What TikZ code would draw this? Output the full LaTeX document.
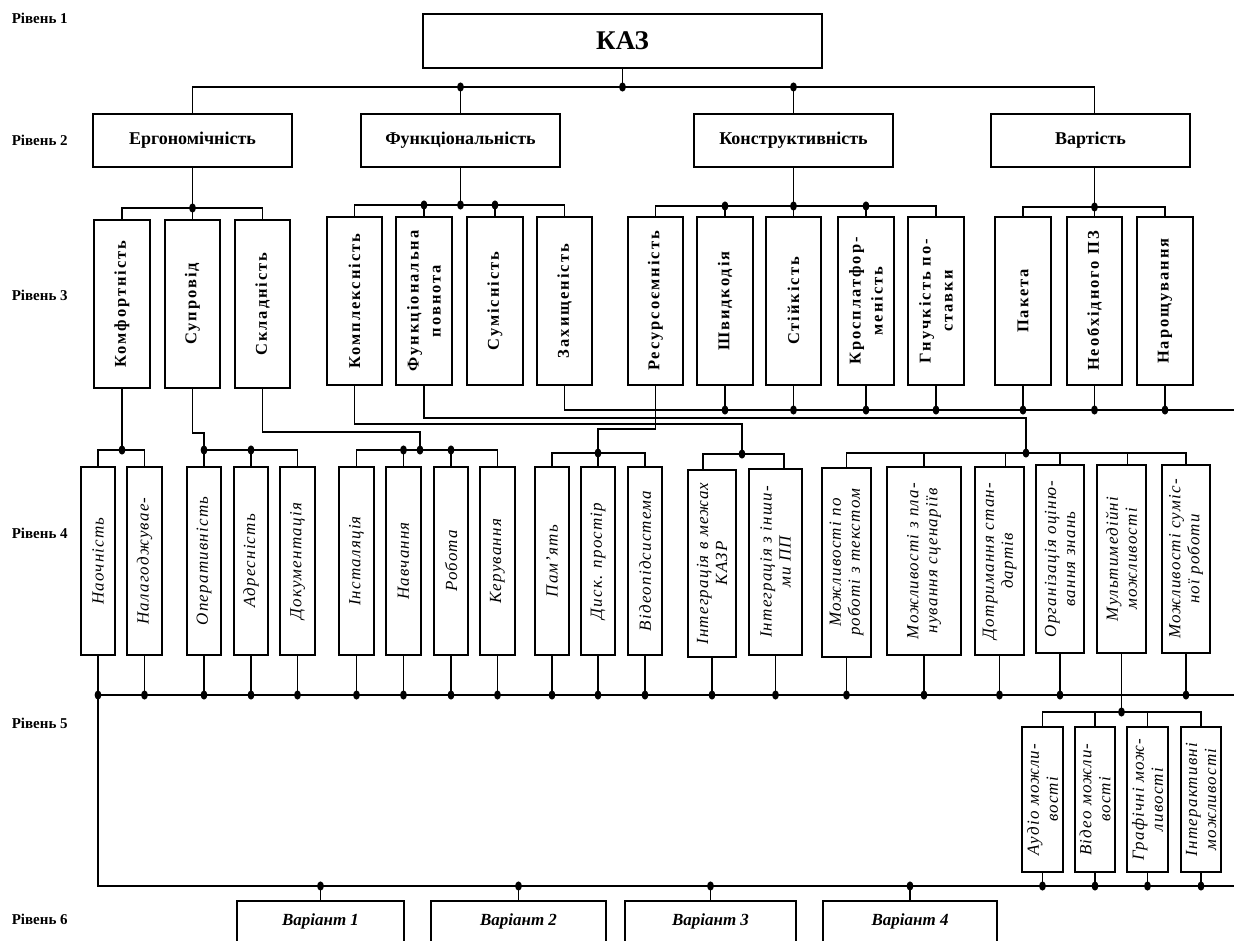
\documentclass[tikz,border=0pt]{standalone}
\usepackage{fontspec}
\setmainfont{Liberation Serif}
\newfontfamily\fthree[LetterSpace=12]{Liberation Serif}
\newfontfamily\ffour[LetterSpace=7]{Liberation Serif}
\newcommand\bx[5]{\node[box, anchor=north west, minimum width=\fpeval{#4-#2}pt, minimum height=\fpeval{#5-#3}pt] (#1) at (#2,#3) {};}
\newcommand\dt[1]{\fill (#1) ellipse[x radius=3.4pt, y radius=4.6pt];}
\tikzset{
 box/.style={draw, inner sep=0pt, outer sep=0pt},
 t2/.style={font=\bfseries\fontsize{18}{20}\selectfont},
 t3/.style={rotate=90, align=center, inner sep=0pt, font=\fthree\bfseries\fontsize{16.5}{22}\selectfont},
 t4/.style={rotate=90, align=center, inner sep=0pt, font=\ffour\itshape\fontsize{17}{19}\selectfont},
 t6/.style={font=\bfseries\itshape\fontsize{17}{19}\selectfont},
 lvl/.style={anchor=west, inner sep=0pt, font=\bfseries\fontsize{15}{17}\selectfont},
}
\begin{document}
\begin{tikzpicture}[x=1pt,y=-1pt,line width=1.6pt]
\path[use as bounding box] (0,0) rectangle (1234,940);
\clip (0,0) rectangle (1234,940);
% level labels
\node[lvl] (lv1) at (11,18) {Рівень 1};
\node[lvl] (lv2) at (11,140) {Рівень 2};
\node[lvl] (lv3) at (11,295) {Рівень 3};
\node[lvl] (lv4) at (11,533) {Рівень 4};
\node[lvl] (lv5) at (11,723) {Рівень 5};
\node[lvl] (lv6) at (11,919) {Рівень 6};
% level 1
\bx{kaz}{423}{14}{822}{68}
\node[font=\bfseries\fontsize{27}{29}\selectfont] (kaz-t) at (kaz) {КАЗ};
% level 2
\bx{ergo}{93}{114}{292}{167}
\bx{func}{361}{114}{560}{167}
\bx{konst}{694}{114}{893}{167}
\bx{vart}{991}{114}{1190}{167}
\node[t2] (ergo-t) at (ergo) {Ергономічність};
\node[t2] (func-t) at (func) {Функціональність};
\node[t2] (konst-t) at (konst) {Конструктивність};
\node[t2] (vart-t) at (vart) {Вартість};
% level 3
\bx{komf}{94}{220}{150}{388}
\bx{supr}{165}{220}{220}{388}
\bx{skl}{235}{220}{290}{388}
\bx{kompl}{327}{217}{382}{385}
\bx{fpovn}{396}{217}{452}{385}
\bx{sum}{467}{217}{523}{385}
\bx{zakh}{537}{217}{592}{385}
\bx{res}{628}{217}{683}{385}
\bx{shv}{697}{217}{753}{385}
\bx{stiik}{766}{217}{821}{385}
\bx{kros}{838}{217}{894}{385}
\bx{gnuch}{908}{217}{964}{385}
\bx{pak}{995}{217}{1051}{385}
\bx{neobh}{1067}{217}{1122}{385}
\bx{nar}{1137}{217}{1193}{385}
\node[t3] (komf-t) at (komf) {Комфортність};
\node[t3] (supr-t) at (supr) {Супровід};
\node[t3] (skl-t) at (skl) {Складність};
\node[t3] (kompl-t) at (kompl) {Комплексність};
\node[t3] (fpovn-t) at (fpovn) {Функціональна\\повнота};
\node[t3] (sum-t) at (sum) {Сумісність};
\node[t3] (zakh-t) at (zakh) {Захищеність};
\node[t3] (res-t) at (res) {Ресурсоємність};
\node[t3] (shv-t) at (shv) {Швидкодія};
\node[t3] (stiik-t) at (stiik) {Стійкість};
\node[t3] (kros-t) at (kros) {Кросплатфор-\\меність};
\node[t3] (gnuch-t) at (gnuch) {Гнучкість по-\\ставки};
\node[t3] (pak-t) at (pak) {Пакета};
\node[t3] (neobh-t) at (neobh) {Необхідного ПЗ};
\node[t3] (nar-t) at (nar) {Нарощування};
% level 4
\bx{nao}{81}{467}{115}{655}
\bx{nal}{127}{467}{162}{655}
\bx{oper}{187}{467}{221}{655}
\bx{adr}{234}{467}{268}{655}
\bx{doc}{280}{467}{315}{655}
\bx{inst}{339}{467}{374}{655}
\bx{navch}{386}{467}{421}{655}
\bx{rob}{434}{467}{468}{655}
\bx{ker}{480}{467}{515}{655}
\bx{pam}{535}{467}{569}{655}
\bx{disk}{581}{467}{615}{655}
\bx{vid}{628}{467}{662}{655}
\bx{int1}{688}{470}{736}{657}
\bx{int2}{749}{469}{802}{655}
\bx{mtext}{822}{468}{871}{657}
\bx{plan}{887}{467}{961}{655}
\bx{dotr}{975}{467}{1024}{655}
\bx{org}{1036}{465}{1084}{653}
\bx{mult}{1097}{465}{1146}{653}
\bx{sumr}{1162}{465}{1210}{653}
\node[t4] (nao-t) at (nao) {Наочність};
\node[t4] (nal-t) at (nal) {Налагоджувае-};
\node[t4] (oper-t) at (oper) {Оперативність};
\node[t4] (adr-t) at (adr) {Адресність};
\node[t4] (doc-t) at (doc) {Документація};
\node[t4] (inst-t) at (inst) {Інсталяція};
\node[t4] (navch-t) at (navch) {Навчання};
\node[t4] (rob-t) at (rob) {Робота};
\node[t4] (ker-t) at (ker) {Керування};
\node[t4] (pam-t) at (pam) {Пам’ять};
\node[t4] (disk-t) at (disk) {Диск. простір};
\node[t4] (vid-t) at (vid) {Відеопідсистема};
\node[t4] (int1-t) at (int1) {Інтеграція в межах\\КАЗР};
\node[t4] (int2-t) at (int2) {Інтеграція з інши-\\ми ПП};
\node[t4] (mtext-t) at (mtext) {Можливості по\\роботі з текстом};
\node[t4] (plan-t) at (plan) {Можливості з пла-\\нування сценаріїв};
\node[t4] (dotr-t) at (dotr) {Дотримання стан-\\дартів};
\node[t4] (org-t) at (org) {Організація оціню-\\вання знань};
\node[t4] (mult-t) at (mult) {Мультимедійні\\можливості};
\node[t4] (sumr-t) at (sumr) {Можливості суміс-\\ної роботи};
% level 5
\bx{aud}{1022}{727}{1063}{872}
\bx{vido}{1075}{727}{1115}{872}
\bx{graf}{1127}{727}{1168}{872}
\bx{inter}{1181}{727}{1221}{872}
\node[t4] (aud-t) at (aud) {Аудіо можли-\\вості};
\node[t4] (vido-t) at (vido) {Відео можли-\\вості};
\node[t4] (graf-t) at (graf) {Графічні мож-\\ливості};
\node[t4] (inter-t) at (inter) {Інтерактивні\\можливості};
% level 6
\bx{var1}{237}{901}{404}{970}
\bx{var2}{431}{901}{606}{970}
\bx{var3}{625}{901}{796}{970}
\bx{var4}{823}{901}{997}{970}
\node[t6] (var1-t) at ([yshift=-20pt]var1.north) {Варіант 1};
\node[t6] (var2-t) at ([yshift=-20pt]var2.north) {Варіант 2};
\node[t6] (var3-t) at ([yshift=-20pt]var3.north) {Варіант 3};
\node[t6] (var4-t) at ([yshift=-20pt]var4.north) {Варіант 4};
% bus coordinates
\coordinate (b1) at (0,87);
\coordinate (b2e) at (0,208);
\coordinate (b2f) at (0,205);
\coordinate (b2k) at (0,206);
\coordinate (b2v) at (0,207);
\coordinate (re3) at (1234,410);
\coordinate (re4) at (1234,695);
\coordinate (re5) at (1234,886);
\coordinate (b4a) at (0,450);
\coordinate (b4p) at (0,453);
\coordinate (b5) at (0,712);
\coordinate (j1) at (420,450);
\coordinate (j2) at (742,454);
\coordinate (j3) at (1026,453);
\coordinate (i1t) at (703,454);
\coordinate (i2t) at (784,454);
% level 1 -> 2
\draw (ergo.north) -- (ergo.north |- b1) -- (neobh.north |- b1) -- (neobh.north |- vart.north);
\draw (kaz.south) -- (kaz.south |- b1);
\draw (func.north) -- (func.north |- b1);
\draw (konst.north) -- (konst.north |- b1);
\dt{func.north |- b1}\dt{kaz.south |- b1}\dt{konst.north |- b1}
% level 2 -> 3
\draw (komf.north) -- (komf.north |- b2e) -- (skl.north |- b2e) -- (skl.north);
\draw (ergo.south) -- (supr.north);
\dt{supr.north |- b2e}
\draw (kompl.north) -- (kompl.north |- b2f) -- (zakh.north |- b2f) -- (zakh.north);
\draw (func.south) -- (func.south |- b2f);
\draw (fpovn.north) -- (fpovn.north |- b2f);
\draw (sum.north) -- (sum.north |- b2f);
\dt{fpovn.north |- b2f}\dt{func.south |- b2f}\dt{sum.north |- b2f}
\draw (res.north) -- (res.north |- b2k) -- (gnuch.north |- b2k) -- (gnuch.north);
\draw (konst.south) -- (stiik.north);
\draw (shv.north) -- (shv.north |- b2k);
\draw (kros.north) -- (kros.north |- b2k);
\dt{shv.north |- b2k}\dt{konst.south |- b2k}\dt{kros.north |- b2k}
\draw (pak.north) -- (pak.north |- b2v) -- (nar.north |- b2v) -- (nar.north);
\draw (neobh.north |- vart.south) -- (neobh.north);
\dt{neobh.north |- b2v}
% level 3 -> bus at 410
\draw (zakh.south) -- (zakh.south |- re3) -- (re3);
\foreach \n in {shv,stiik,kros,gnuch,pak,neobh,nar}{\draw (\n.south) -- (\n.south |- re3); \dt{\n.south |- re3}}
% level 3 -> 4
\draw (nao.north) -- (nao.north |- b4a) -- (nal.north |- b4a) -- (nal.north);
\draw (komf.south) -- (komf.south |- b4a);
\dt{komf.south |- b4a}
\draw (supr.south) -- (supr.south |- 0,433) -- (oper.north |- 0,433) -- (oper.north);
\draw (oper.north |- b4a) -- (doc.north |- b4a) -- (doc.north);
\draw (adr.north) -- (adr.north |- b4a);
\dt{oper.north |- b4a}\dt{adr.north |- b4a}
\draw (skl.south) -- (skl.south |- 0,432) -- (j1 |- 0,432) -- (j1);
\draw (inst.north) -- (inst.north |- b4a) -- (ker.north |- b4a) -- (ker.north);
\draw (navch.north) -- (navch.north |- b4a);
\draw (rob.north) -- (rob.north |- b4a);
\dt{navch.north |- b4a}\dt{j1}\dt{rob.north |- b4a}
\draw (res.south) -- (res.south |- 0,429) -- (disk.north |- 0,429) -- (disk.north);
\draw (pam.north) -- (pam.north |- b4p) -- (vid.north |- b4p) -- (vid.north);
\dt{disk.north |- b4p}
\draw (kompl.south) -- (kompl.south |- 0,424) -- (j2 |- 0,424) -- (j2);
\draw (i1t |- int1.north) -- (i1t) -- (i2t) -- (i2t |- int2.north);
\dt{j2}
\draw (fpovn.south) -- (fpovn.south |- 0,418) -- (j3 |- 0,418) -- (j3);
\draw (mtext.north) -- (mtext.north |- j3) -- (sumr.north |- j3) -- (sumr.north);
\draw (plan.north) -- (plan.north |- j3);
\draw ([xshift=6pt]dotr.north) -- ([xshift=6pt]dotr.north |- j3);
\draw (org.north) -- (org.north |- j3);
\draw ([xshift=6pt]mult.north) -- ([xshift=6pt]mult.north |- j3);
\dt{j3}
% level 4 -> bottom bus
\draw (nao.south) -- (nao.south |- re5) -- (re5);
\draw (nao.south |- re4) -- (re4);
\foreach \n in {nao,nal,oper,adr,doc,inst,navch,rob,ker,pam,disk,vid,int1,int2,mtext,plan,dotr,org,sumr}{\draw (\n.south) -- (\n.south |- re4); \dt{\n.south |- re4}}
% level 4 -> 5
\draw (mult.south) -- (mult.south |- b5);
\draw (aud.north) -- (aud.north |- b5) -- (inter.north |- b5) -- (inter.north);
\draw (vido.north) -- (vido.north |- b5);
\draw (graf.north) -- (graf.north |- b5);
\dt{mult.south |- b5}
\foreach \n in {aud,vido,graf,inter}{\draw (\n.south) -- (\n.south |- re5); \dt{\n.south |- re5}}
% level 6
\foreach \n in {var1,var2,var3,var4}{\draw (\n.north) -- (\n.north |- re5); \dt{\n.north |- re5}}
\end{tikzpicture}
\end{document}
